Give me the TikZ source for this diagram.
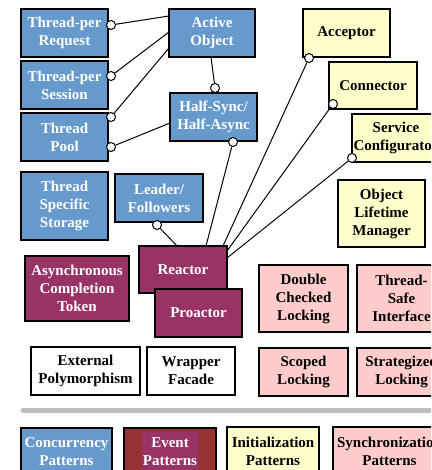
\documentclass[tikz,border=0pt]{standalone}
\usepackage{fontspec}
\setmainfont{Liberation Serif}
\definecolor{patblue}{HTML}{6699CC}
\definecolor{patyellow}{HTML}{FFFFCC}
\definecolor{patpink}{HTML}{FFCCCC}
\definecolor{patpurple}{HTML}{993366}
\definecolor{patred}{HTML}{993333}
\definecolor{rulegray}{HTML}{BEBEBE}
\tikzset{
  pfont/.style={font=\fontsize{15}{18}\selectfont\bfseries},
  pbox/.style={draw=black, line width=1.4pt, rectangle, inner sep=0pt, outer sep=0pt,
    align=center, pfont,
    minimum width=88pt, minimum height=48pt},
  bluebox/.style={pbox, fill=patblue, text=white},
  purplebox/.style={pbox, fill=patpurple, text=white},
  yellowbox/.style={pbox, fill=patyellow, text=black},
  pinkbox/.style={pbox, fill=patpink, text=black},
  plainbox/.style={pbox, fill=white, text=black},
  ring/.style={circle, draw=black, fill=white, line width=1pt, minimum size=9pt, inner sep=0pt},
  link/.style={draw=black, line width=1pt}
}
\begin{document}
\begin{tikzpicture}[x=1pt, y=-1pt]
\useasboundingbox (0,0) rectangle (431,470);
\clip (0,0) rectangle (431,470);
\fill[white] (0,0) rectangle (431,470);

% concurrency patterns
\node[bluebox, minimum width=87pt] (tpr) at (64.5,33) {Thread-per\\Request};
\node[bluebox, minimum width=87pt] (tps) at (64.5,85) {Thread-per\\Session};
\node[bluebox, minimum width=87pt] (tp)  at (64.5,137) {Thread\\Pool};
\node[bluebox, minimum width=86pt] (ao)  at (212,33) {Active\\Object};
\node[bluebox, minimum width=87pt] (hs)  at (213.5,117) {Half-Sync/\\Half-Async};
\node[bluebox, minimum width=87pt, minimum height=68pt] (tss) at (64.5,206) {Thread\\Specific\\Storage};
\node[bluebox] (lf) at (159,198) {Leader/\\Followers};

% initialization patterns
\node[yellowbox, minimum width=87pt] (acc) at (346.5,33) {Acceptor};
\node[yellowbox, minimum height=47pt] (con) at (373,85.5) {Connector};
\node[yellowbox] (sc) at (396,138) {Service\\Configurator};
\node[yellowbox, minimum width=87pt, minimum height=67pt] (olm) at (381.5,213.5) {Object\\Lifetime\\Manager};

% event patterns
\node[purplebox, minimum width=104pt, minimum height=65pt] (act) at (77,288.5) {Asynchronous\\Completion\\Token};
\node[purplebox, minimum height=47pt] (re) at (183,269.5) {Reactor};
\node[purplebox, minimum width=87pt] (pro) at (198.5,313) {Proactor};

% synchronization patterns
\node[pinkbox, minimum width=89pt, minimum height=67pt] (dcl) at (303.5,298.5) {Double\\Checked\\Locking};
\node[pinkbox, minimum width=89pt, minimum height=67pt] (tsi) at (401.5,298.5) {Thread-\\Safe\\Interface};
\node[pinkbox, minimum width=89pt] (scl) at (303.5,372) {Scoped\\Locking};
\node[pinkbox, minimum width=89pt] (stl) at (401.5,372) {Strategized\\Locking};

% other patterns
\node[plainbox, minimum width=109pt] (epm) at (85.5,371) {External\\Polymorphism};
\node[plainbox] (wf) at (191,371) {Wrapper\\Facade};

% connector ends
\node[ring] (rtpr) at (111,25) {};
\node[ring] (rtps) at (111,76) {};
\node[ring] (rtpa) at (111,117) {};
\node[ring] (rtpb) at (111,147) {};
\node[ring] (rhsa) at (215,88) {};
\node[ring] (rhsb) at (233,142) {};
\node[ring] (rlf)  at (157,225) {};
\node[ring] (racc) at (309,58) {};
\node[ring] (rcon) at (333,104) {};
\node[ring] (rsc)  at (352,158) {};

% connectors
\draw[link] (rtpr) -- ([yshift=-7pt]ao.north west);
\draw[link] (rtps) -- ([yshift=-23pt]ao.north west);
\draw[link] (rtpa) -- ([yshift=-39pt]ao.north west);
\draw[link] (rtpb) -- ([yshift=-30pt]hs.north west);
\draw[link] ([xshift=-1pt]ao.south) -- (rhsa);
\draw[link] (rhsb) -- ([xshift=67pt]re.north west);
\draw[link] (rlf) -- ([xshift=38pt]re.north west);
\draw[link] (racc) -- ([xshift=84pt]re.north west);
\draw[link] (rcon) -- ([yshift=-5pt]re.north east);
\draw[link] (rsc) -- ([yshift=-12pt]re.north east);

% separator rule
\coordinate (ruleL) at (23,410);
\coordinate (ruleR) at (445,410);
\draw[rulegray, line width=5pt, line cap=round] (ruleL) -- (ruleR);

% legend
\node[bluebox, minimum width=91pt] (lconc) at (66.5,452) {Concurrency\\Patterns};
\node[pbox, fill=patred, minimum width=92pt] (levt) at (170,452) {};
\fill[patpurple] (142,432) rectangle (198,478);
\node[text=white, align=center, pfont] (levtt) at (levt.center) {Event\\Patterns};
\node[yellowbox, minimum width=92pt] (linit) at (273,451) {Initialization\\Patterns};
\node[pinkbox, minimum width=113pt] (lsync) at (389.5,451) {Synchronization\\Patterns};
\end{tikzpicture}
\end{document}
